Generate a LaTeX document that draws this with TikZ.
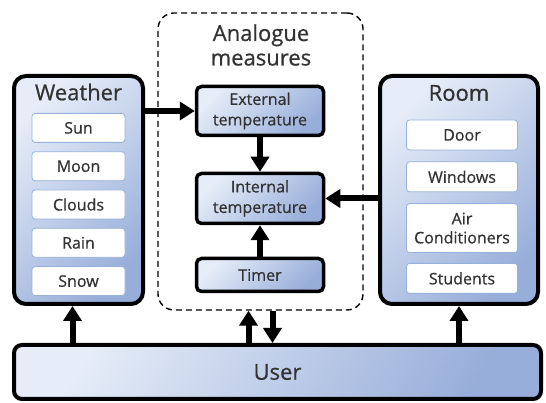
\documentclass[tikz,border=0pt]{standalone}
\usepackage{fontspec}
\setmainfont{Open Sans}[RawFeature={embolden=0.6}]
\usetikzlibrary{positioning, arrows.meta}
\definecolor{BoxLight}{RGB}{230,237,248}
\definecolor{BoxDark}{RGB}{152,174,218}
\definecolor{ItemEdge}{RGB}{150,178,218}
\definecolor{TextGray}{RGB}{50,50,50}

\begin{document}
\begin{tikzpicture}[x=1pt, y=1pt, text=TextGray, font=\fontsize{16}{18}\selectfont]
    \tikzstyle{group} = [rectangle, draw=black, line width=4pt, rounded corners=12pt, top color=BoxLight, bottom color=BoxDark, shading angle=45, minimum height=228pt]
    \tikzstyle{item} = [rectangle, draw=ItemEdge, fill=white, line width=0.8pt, rounded corners=3pt, minimum height=29pt, inner sep=0pt, align=center, font=\fontsize{16}{19}\selectfont]
    \tikzstyle{measure} = [rectangle, draw=black, line width=3.5pt, rounded corners=5pt, top color=BoxLight, bottom color=BoxDark, shading angle=45, minimum width=127pt, inner sep=0pt, align=center, font=\fontsize{16}{20.5}\selectfont]
    \tikzstyle{title} = [font=\fontsize{22}{24.5}\selectfont, align=center, inner sep=0pt]
    \tikzstyle{arrow} = [line width=6pt, -{Triangle[length=15pt,width=18pt]}, draw=black]

    \useasboundingbox (0,0) rectangle (546,403);

    % weather group
    \node [group, minimum width=129pt] (weather) at (78.5,213) {};
    \node [title] (weathertitle) at (78.5,311) {Weather};
    \node [item, minimum width=93pt, below=39pt of weather.north] (sun) {Sun};
    \node [item, minimum width=93pt, below=8.5pt of sun] (moon) {Moon};
    \node [item, minimum width=93pt, below=8.5pt of moon] (clouds) {Clouds};
    \node [item, minimum width=93pt, below=8.5pt of clouds] (rain) {Rain};
    \node [item, minimum width=93pt, below=8.5pt of rain] (snow) {Snow};

    % room group
    \node [group, minimum width=158pt] (room) at (459,213) {};
    \node [title] (roomtitle) at (459,310) {Room};
    \node [item, minimum width=111pt, minimum height=30pt] (door) at (462,268) {Door};
    \node [item, minimum width=111pt, minimum height=30pt, below=11pt of door] (windows) {Windows};
    \node [item, minimum width=111pt, minimum height=49pt, below=11pt of windows] (aircon) {Air\\Conditioners};
    \node [item, minimum width=111pt, minimum height=30pt, below=10pt of aircon] (students) {Students};

    % analogue measures
    \node [draw=black, dash pattern=on 6pt off 4pt, line width=1.4pt, rounded corners=16pt, minimum width=205pt, minimum height=297pt] (analogue) at (260.5,241.5) {};
    \node [title] (analoguetitle) at (261,358) {Analogue\\measures};
    \node [measure, minimum height=49pt] (external) at (260,292) {External\\temperature};
    \node [measure, minimum height=50pt] (internal) at (260,204.5) {Internal\\temperature};
    \node [measure, minimum height=33pt] (timer) at (260,128) {Timer};

    % user
    \node [group, minimum width=527pt, minimum height=54pt, rounded corners=8pt, shading angle=60, font=\fontsize{22}{24}\selectfont] (user) at (277.5,31) {User};

    \draw [arrow] (external.west -| weather.east) -- (external.west);
    \draw [arrow] (internal.east -| room.west) -- (internal.east);
    \draw [arrow] (external) -- (internal);
    \draw [arrow] (timer) -- (internal);
    \draw [arrow] ([xshift=-6pt]weather.south |- user.north) -- ([xshift=-6pt]weather.south);
    \draw [arrow] ([xshift=-12pt]analogue.south |- user.north) -- ([xshift=-12pt]analogue.south);
    \draw [arrow] ([xshift=12pt]analogue.south) -- ([xshift=12pt]analogue.south |- user.north);
    \draw [arrow] (room.south |- user.north) -- (room.south);
\end{tikzpicture}
\end{document}
